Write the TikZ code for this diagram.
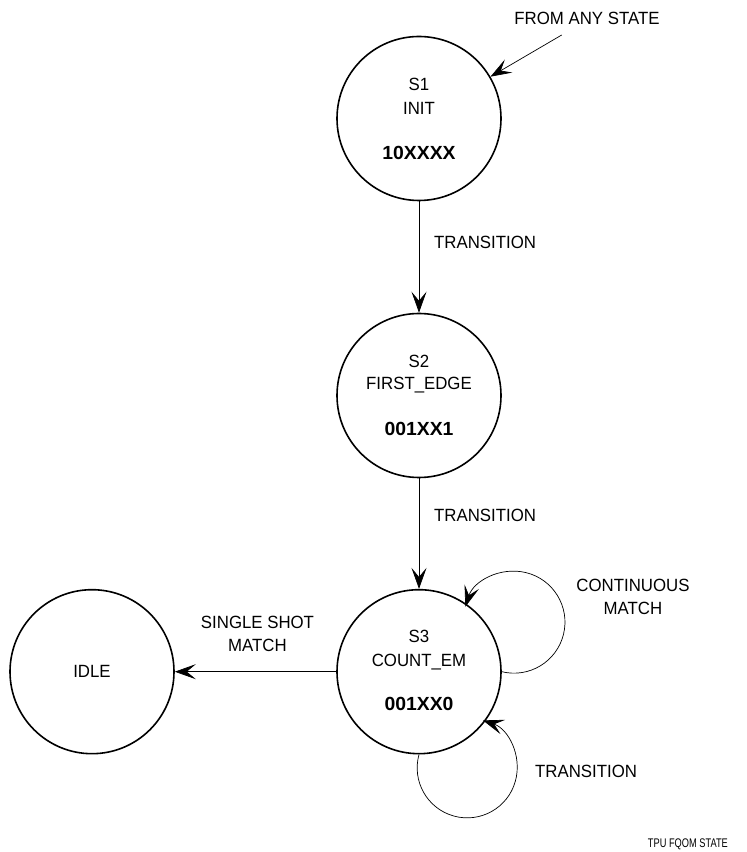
\documentclass[tikz,border=0pt]{standalone}
\usepackage{fontspec}
\setmainfont{Liberation Sans}[FakeStretch=0.95]
\newfontfamily\narrowfont{Liberation Sans}[FakeStretch=0.74]
\newfontfamily\boldfamily{Liberation Sans Bold}[FakeStretch=1.02]
\usetikzlibrary{arrows.meta}
\begin{document}
\begin{tikzpicture}[x=1pt,y=1pt,
  state/.style={circle, draw, line width=1.6pt, minimum size=164pt, inner sep=0pt},
  lbl/.style={font=\fontsize{17.7}{22.7}\selectfont, inner sep=0pt, align=center},
  code/.style={font=\boldfamily\fontsize{19}{22}\selectfont, inner sep=0pt},
  conn/.style={line width=0.7pt, -{Stealth[length=21pt,width=15pt,inset=9pt]}},
]
\useasboundingbox (0,0) rectangle (747,852);

% states
\node[state] (S1) at (419,733.5) {};
\node[lbl] (S1a) at ([yshift=34.5]S1.center) {S1};
\node[lbl] (S1b) at ([yshift=10.5]S1.center) {INIT};
\node[code] (S1c) at ([yshift=-34]S1.center) {10XXXX};

\node[state] (S2) at (419,456.5) {};
\node[lbl] (S2a) at ([yshift=34.5]S2.center) {S2};
\node[lbl] (S2b) at ([yshift=10.5]S2.center) {FIRST\_EDGE};
\node[code] (S2c) at ([yshift=-33]S2.center) {001XX1};

\node[state] (S3) at (419,180.3) {};
\node[lbl] (S3a) at ([yshift=35.5]S3.center) {S3};
\node[lbl] (S3b) at ([yshift=10]S3.center) {COUNT\_EM};
\node[code] (S3c) at ([yshift=-32.5]S3.center) {001XX0};

\node[state] (IDLE) at (92,180.3) {};
\node[lbl] (IDLEa) at (IDLE.center) {IDLE};

% connectors
\coordinate (fa) at (561.7,817);
\draw[conn] (fa) -- (S1);
\draw[conn] (S1) -- (S2);
\draw[conn] (S2) -- (S3);
\draw[conn] (S3) -- (IDLE);
\draw[conn] (S3.east) arc[start angle=-103.8, end angle=162.4, radius=51];
\draw[conn] (S3.south) arc[start angle=164.5, end angle=431.7, radius=50];

% labels
\node[lbl] (fromany) at (587,833.5) {FROM ANY STATE};
\node[lbl, anchor=west] (t1) at (434,610) {TRANSITION};
\node[lbl, anchor=west] (t2) at (434,337) {TRANSITION};
\node[lbl, anchor=west] (t3) at (535,80.3) {TRANSITION};
\node[lbl] (cm) at (633,255) {CONTINUOUS\\MATCH};
\node[lbl] (ssm) at (257.5,218) {SINGLE SHOT\\MATCH};
\node[font=\narrowfont\fontsize{12.5}{14}\selectfont, inner sep=0pt, anchor=east] (fig) at (728,8) {TPU FQOM STATE};
\end{tikzpicture}
\end{document}
